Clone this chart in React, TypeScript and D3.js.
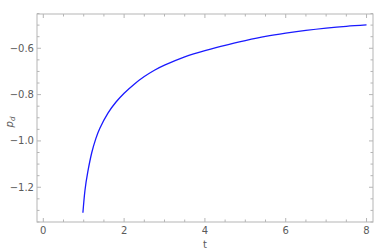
import React from 'react';
import * as d3 from 'd3';

// values
const tValues = [0.98, 1.03, 1.1, 1.2, 1.3, 1.4, 1.6, 1.8, 2.0, 2.25, 2.5, 2.75, 3.0, 3.5, 4.0, 4.5, 5.0, 5.5, 6.0, 6.5, 7.0, 7.5, 8.0];
const pValues = [-1.31, -1.215, -1.135, -1.05, -0.99, -0.945, -0.88, -0.832, -0.794, -0.755, -0.722, -0.695, -0.673, -0.637, -0.61, -0.587, -0.567, -0.549, -0.535, -0.523, -0.513, -0.505, -0.499];

const xMajor = [0, 2, 4, 6, 8];
const yMajor = [-1.2, -1.0, -0.8, -0.6];

const W = 389;
const H = 252;
const m = { left: 37, top: 14, right: 16, bottom: 30 };

const frameColor = '#b5b5b5';
const labelColor = '#5a5a5a';

export default function App() {
  const x = d3.scaleLinear().domain([-0.156, 8.16]).range([m.left, W - m.right]);
  const y = d3.scaleLinear().domain([-1.35, -0.452]).range([H - m.bottom, m.top]);

  const xMinor = d3.range(0, 8.01, 0.5).filter(v => !xMajor.includes(v));
  const yMinor = d3.range(-1.35, -0.449, 0.05)
    .map(v => Math.round(v * 100) / 100)
    .filter(v => !yMajor.some(M => Math.abs(M - v) < 1e-6));

  const line = d3.line<number>()
    .x((_, i) => x(tValues[i]))
    .y(d => y(d))
    .curve(d3.curveNatural);

  const [x0, x1] = x.range();
  const [y0, y1] = y.range();
  const fmt = (v: number) => (v < 0 ? '\u2212' : '') + Math.abs(v).toFixed(1);

  return (
    <svg width={W} height={H} style={{ position: 'absolute', left: 0, top: 0, background: '#fff' }}
      fontFamily="'DejaVu Sans', sans-serif">
      <rect x={x0} y={y1} width={x1 - x0} height={y0 - y1} fill="none" stroke={frameColor} strokeWidth={1} />

      {/* x ticks, bottom and top */}
      {xMajor.map(v => (
        <g key={'xM' + v}>
          <line x1={x(v)} x2={x(v)} y1={y0} y2={y0 - 4} stroke={frameColor} />
          <line x1={x(v)} x2={x(v)} y1={y1} y2={y1 + 4} stroke={frameColor} />
          <text x={x(v)} y={y0 + 12} textAnchor="middle" fontSize={10} fill={labelColor}>{v}</text>
        </g>
      ))}
      {xMinor.map(v => (
        <g key={'xm' + v}>
          <line x1={x(v)} x2={x(v)} y1={y0} y2={y0 - 2.5} stroke={frameColor} />
          <line x1={x(v)} x2={x(v)} y1={y1} y2={y1 + 2.5} stroke={frameColor} />
        </g>
      ))}

      {/* y ticks, left and right */}
      {yMajor.map(v => (
        <g key={'yM' + v}>
          <line x1={x0} x2={x0 + 4} y1={y(v)} y2={y(v)} stroke={frameColor} />
          <line x1={x1} x2={x1 - 4} y1={y(v)} y2={y(v)} stroke={frameColor} />
          <text x={x0 - 3} y={y(v) + 3.5} textAnchor="end" fontSize={10} fill={labelColor}>{fmt(v)}</text>
        </g>
      ))}
      {yMinor.map(v => (
        <g key={'ym' + v}>
          <line x1={x0} x2={x0 + 2.5} y1={y(v)} y2={y(v)} stroke={frameColor} />
          <line x1={x1} x2={x1 - 2.5} y1={y(v)} y2={y(v)} stroke={frameColor} />
        </g>
      ))}

      <path d={line(pValues) ?? ''} fill="none" stroke="#1a1aff" strokeWidth={1.3} />

      <text x={x(4)} y={H - 4} textAnchor="middle" fontSize={10} fill={labelColor}>t</text>
      <text transform={`translate(13,${(y0 + y1) / 2 + 4}) rotate(-90)`} textAnchor="middle"
        fontSize={10} fill={labelColor} fontStyle="italic">
        p<tspan fontSize={7} dy={2}>d</tspan>
      </text>
    </svg>
  );
}
